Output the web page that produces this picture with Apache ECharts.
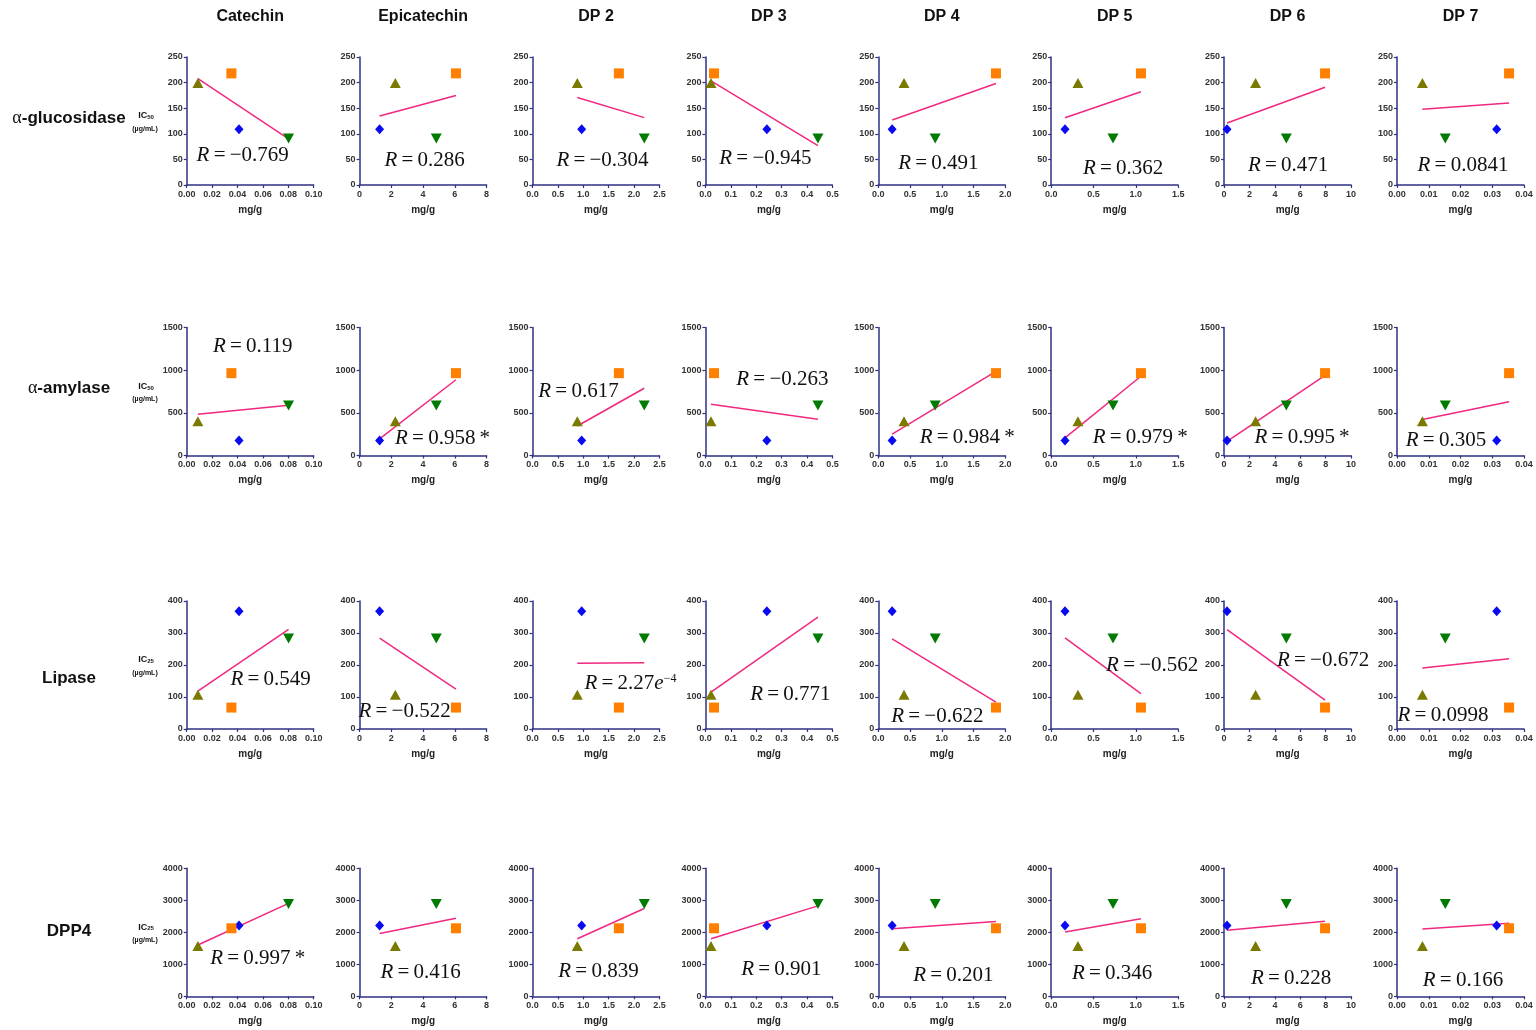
<!DOCTYPE html>
<html>
<head>
<meta charset="utf-8">
<script src="https://cdn.jsdelivr.net/npm/echarts@6/dist/echarts.min.js"></script>
<style>
html, body { margin: 0; padding: 0; background: #ffffff; }
#main { width: 1536px; height: 1030px; }
</style>
</head>
<body>
<div id="main"></div>
<script>
// ---- data ----
const compounds = ['Catechin', 'Epicatechin', 'DP 2', 'DP 3', 'DP 4', 'DP 5', 'DP 6', 'DP 7'];
const enzymes = ['α-glucosidase', 'α-amylase', 'Lipase', 'DPP4'];
const icSubscripts = ['50', '50', '25', '25'];

// content (mg/g) of each compound in the four extracts
// order of extracts: blue diamond, orange square, olive triangle, green inverted triangle
const contentCatechin    = [0.0412, 0.0352, 0.0088, 0.0802];
const contentEpicatechin = [1.26, 6.07, 2.25, 4.83];
const contentDP2         = [0.968, 1.70, 0.882, 2.20];
const contentDP3         = [0.242, 0.034, 0.022, 0.443];
const contentDP4         = [0.218, 1.853, 0.405, 0.896];
const contentDP5         = [0.163, 1.06, 0.316, 0.73];
const contentDP6         = [0.23, 7.95, 2.48, 4.9];
const contentDP7         = [0.0314, 0.0353, 0.0080, 0.0152];
const contents = [contentCatechin, contentEpicatechin, contentDP2, contentDP3,
                  contentDP4, contentDP5, contentDP6, contentDP7];

// inhibitory concentration (µg/mL) of the four extracts for each enzyme
const icGlucosidase = [109, 218, 199, 91];
const icAmylase     = [176, 965, 400, 587];
const icLipase      = [368, 67, 107, 283];
const icDPP4        = [2212, 2125, 1570, 2881];
const icValues = [icGlucosidase, icAmylase, icLipase, icDPP4];

// correlation coefficients written in each panel
const rGlucosidase = ['−0.769', '0.286', '−0.304', '−0.945', '0.491', '0.362', '0.471', '0.0841'];
const rAmylase     = ['0.119', '0.958*', '0.617', '−0.263', '0.984*', '0.979*', '0.995*', '0.305'];
const rLipase      = ['0.549', '−0.522', '2.27e−4', '0.771', '−0.622', '−0.562', '−0.672', '0.0998'];
const rDPP4        = ['0.997*', '0.416', '0.839', '0.901', '0.201', '0.346', '0.228', '0.166'];
const rValues = [rGlucosidase, rAmylase, rLipase, rDPP4];

// tick labels
const xTickLabels = [
  ['0.00', '0.02', '0.04', '0.06', '0.08', '0.10'],
  ['0', '2', '4', '6', '8'],
  ['0.0', '0.5', '1.0', '1.5', '2.0', '2.5'],
  ['0.0', '0.1', '0.2', '0.3', '0.4', '0.5'],
  ['0.0', '0.5', '1.0', '1.5', '2.0'],
  ['0.0', '0.5', '1.0', '1.5'],
  ['0', '2', '4', '6', '8', '10'],
  ['0.00', '0.01', '0.02', '0.03', '0.04']
];
const yTickLabels = [
  ['0', '50', '100', '150', '200', '250'],
  ['0', '500', '1000', '1500'],
  ['0', '100', '200', '300', '400'],
  ['0', '1000', '2000', '3000', '4000']
];

// ---- layout & styles ----
const gridLeft0 = 186.7, gridStep = 172.9, gridW = 127, gridH = 128;
const rowTops = [57, 327.5, 601, 868.3];
const rowLabelY = [118, 388, 678, 931];
// centre of the R label relative to each plot's top-left corner
const rLabelPos = [
  [[56, 98], [65, 103], [70, 103], [60, 101], [60, 106], [72, 111], [64, 108], [66, 108]],
  [[66, 19], [83, 111], [46, 64], [77, 52], [89, 110], [89, 110], [78, 110], [49, 113]],
  [[84, 78], [45, 110], [98, 82], [85, 93], [59, 115], [101, 64], [99, 59], [46, 114]],
  [[71, 90], [61, 104], [66, 103], [76, 101], [75, 107], [61, 105], [67, 110], [66, 112]]
];
const markerStyles = [
  { symbol: 'diamond',  size: [9, 10],  rotate: 0,   color: '#0a0af0' },
  { symbol: 'rect',     size: [10, 10], rotate: 0,   color: '#ff7f00' },
  { symbol: 'triangle', size: [11, 10], rotate: 0,   color: '#7a7a00' },
  { symbol: 'triangle', size: [11, 10], rotate: 180, color: '#007a00' }
];
const axisColor = '#2f3183';
const fitColor = '#f0287f';
const sansFont = '"Liberation Sans", Arial, sans-serif';
const serifFont = '"Liberation Serif", "Times New Roman", serif';
const thin = '\u2009';

// least-squares fit drawn between the smallest and largest content value
function fitLine(xs, ys) {
  const n = xs.length;
  const mx = xs.reduce((a, b) => a + b, 0) / n;
  const my = ys.reduce((a, b) => a + b, 0) / n;
  let sxy = 0, sxx = 0;
  for (let i = 0; i < n; i++) {
    sxy += (xs[i] - mx) * (ys[i] - my);
    sxx += (xs[i] - mx) * (xs[i] - mx);
  }
  const b = sxy / sxx, a = my - b * mx;
  const x0 = Math.min(...xs), x1 = Math.max(...xs);
  return [[x0, a + b * x0], [x1, a + b * x1]];
}

function rRichText(val) {
  const eq = thin + '=' + thin;
  if (val.indexOf('e') >= 0) {
    const parts = val.split('e');
    return '{i|R}{n|' + eq + parts[0] + '}{i|e}{sup|' + parts[1] + '}';
  }
  if (val.endsWith('*')) {
    return '{i|R}{n|' + eq + val.slice(0, -1) + '}{st|' + thin + '*}';
  }
  return '{i|R}{n|' + eq + val + '}';
}

const grids = [], xAxes = [], yAxes = [], series = [], graphics = [];

enzymes.forEach((enz, r) => {
  compounds.forEach((comp, c) => {
    const idx = r * compounds.length + c;
    const left = gridLeft0 + gridStep * c;
    const top = rowTops[r];
    grids.push({ left: left, top: top, width: gridW, height: gridH,
                 containLabel: false, outerBoundsMode: 'none' });

    const xl = xTickLabels[c];
    const xMax = parseFloat(xl[xl.length - 1]);
    const xInt = parseFloat(xl[1]);
    xAxes.push({
      type: 'value', gridIndex: idx, min: 0, max: xMax, interval: xInt,
      name: 'mg/g', nameLocation: 'middle', nameGap: 20,
      nameTextStyle: { fontFamily: sansFont, fontWeight: 'bold', fontSize: 10, color: '#222' },
      axisLine: { show: true, onZero: false, lineStyle: { color: axisColor, width: 1.5 } },
      axisTick: { show: true, length: 3, lineStyle: { color: axisColor, width: 1.2 } },
      axisLabel: {
        margin: 5, fontFamily: sansFont, fontWeight: 'bold', fontSize: 9, color: '#333',
        showMinLabel: true, showMaxLabel: true,
        formatter: (v) => xl[Math.round(v / xInt)]
      },
      splitLine: { show: false }
    });

    const yl = yTickLabels[r];
    const yMax = parseFloat(yl[yl.length - 1]);
    const yInt = parseFloat(yl[1]);
    yAxes.push({
      type: 'value', gridIndex: idx, min: 0, max: yMax, interval: yInt,
      axisLine: { show: true, onZero: false, lineStyle: { color: axisColor, width: 1.5 } },
      axisTick: { show: true, length: 3, lineStyle: { color: axisColor, width: 1.2 } },
      axisLabel: {
        margin: 4, fontFamily: sansFont, fontWeight: 'bold', fontSize: 9, color: '#333',
        showMinLabel: true, showMaxLabel: true,
        formatter: (v) => yl[Math.round(v / yInt)]
      },
      splitLine: { show: false }
    });

    const xs = contents[c], ys = icValues[r];
    series.push({
      type: 'line', xAxisIndex: idx, yAxisIndex: idx,
      data: fitLine(xs, ys), symbol: 'none', silent: true, z: 2,
      lineStyle: { color: fitColor, width: 1.5 }
    });
    series.push({
      type: 'scatter', xAxisIndex: idx, yAxisIndex: idx, z: 3, silent: true,
      data: xs.map((x, k) => ({
        value: [x, ys[k]],
        symbol: markerStyles[k].symbol,
        symbolSize: markerStyles[k].size,
        symbolRotate: markerStyles[k].rotate,
        itemStyle: { color: markerStyles[k].color, opacity: 1 }
      }))
    });

    const pos = rLabelPos[r][c];
    graphics.push({
      type: 'text', z: 10, silent: true,
      x: left + pos[0], y: top + pos[1],
      style: {
        text: rRichText(rValues[r][c]),
        align: 'center', verticalAlign: 'middle',
        rich: {
          i: { fontFamily: serifFont, fontStyle: 'italic', fontSize: 21, fill: '#111' },
          n: { fontFamily: serifFont, fontSize: 21, fill: '#111' },
          st: { fontFamily: serifFont, fontSize: 21, fill: '#111' },
          sup: { fontFamily: serifFont, fontSize: 12, fill: '#111', verticalAlign: 'top' }
        }
      }
    });
  });

  // row label and IC label
  graphics.push({
    type: 'text', silent: true, x: 69, y: rowLabelY[r],
    style: {
      text: enz.startsWith('α') ? '{a|α}{b|' + enz.slice(1) + '}' : '{b|' + enz + '}',
      align: 'center', verticalAlign: 'middle',
      rich: {
        a: { fontFamily: serifFont, fontSize: 18, fill: '#111' },
        b: { fontFamily: sansFont, fontWeight: 'bold', fontSize: 17, fill: '#111' }
      }
    }
  });
  graphics.push({
    type: 'text', silent: true, x: 146, y: rowTops[r] + 59,
    style: {
      text: '{t|IC}{s|' + icSubscripts[r] + '}',
      align: 'center', verticalAlign: 'middle',
      rich: {
        t: { fontFamily: sansFont, fontWeight: 'bold', fontSize: 9, fill: '#111' },
        s: { fontFamily: sansFont, fontWeight: 'bold', fontSize: 6, fill: '#111', verticalAlign: 'bottom' }
      }
    }
  });
  graphics.push({
    type: 'text', silent: true, x: 145, y: rowTops[r] + 72,
    style: {
      text: '(µg/mL)', align: 'center', verticalAlign: 'middle',
      font: 'bold 7px ' + sansFont, fill: '#111'
    }
  });
});

// column headers
compounds.forEach((comp, c) => {
  graphics.push({
    type: 'text', silent: true, x: gridLeft0 + gridStep * c + gridW / 2, y: 17,
    style: {
      text: comp, align: 'center', verticalAlign: 'middle',
      font: 'bold 16px ' + sansFont, fill: '#111'
    }
  });
});

const chart = echarts.init(document.getElementById('main'), null, { renderer: 'canvas' });
chart.setOption({
  backgroundColor: '#ffffff',
  animation: false,
  grid: grids,
  xAxis: xAxes,
  yAxis: yAxes,
  series: series,
  graphic: graphics
});
</script>
</body>
</html>
